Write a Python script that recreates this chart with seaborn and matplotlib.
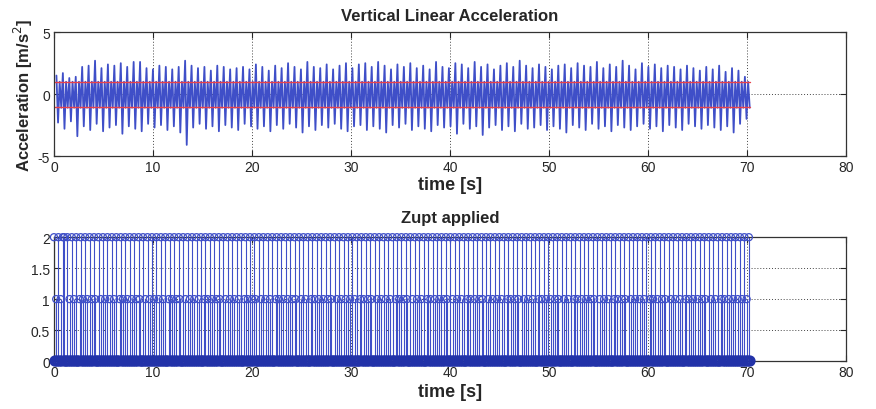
import numpy as np
import seaborn as sns
import matplotlib.pyplot as plt

sns.set_style("ticks")
plt.rcParams["font.family"] = ["Liberation Sans", "DejaVu Sans"]
plt.rcParams["axes.unicode_minus"] = False

# vertical acceleration: one big positive peak and one big negative trough per step
peaks = [
    1.5, 1.7, 1.3, 1.4, 2.2, 2.3, 2.7, 2.1, 2.4, 2.3, 2.5, 2.2, 2.6, 2.6, 2.1, 2.0,
    2.3, 2.2, 2.0, 2.2, 2.7, 2.3, 2.1, 2.2, 1.9, 2.3, 2.2, 2.0, 2.1, 2.2, 2.0, 2.4,
    2.2, 1.9, 2.3, 2.1, 2.5, 2.2, 2.0, 2.6, 2.2, 2.1, 2.4, 2.0, 2.3, 2.5, 2.1, 2.4,
    2.5, 2.2, 2.6, 2.3, 2.0, 2.4, 2.2, 2.5, 2.1, 2.3, 2.0, 2.6, 2.2, 2.1, 2.5, 2.4,
    2.1, 2.6, 2.2, 2.4, 2.0, 2.3, 2.5, 2.2, 2.7, 2.3, 2.1, 2.4, 2.2, 2.0, 2.3, 2.4,
    2.1, 2.5, 2.3, 2.2, 2.6, 2.1, 2.4, 2.2, 2.7, 2.3, 2.0, 2.5, 2.2, 2.4, 2.1, 2.3,
    2.2, 2.0, 2.3, 2.1, 1.9, 2.2, 2.0, 2.3, 1.8, 2.1, 1.9, 1.4,
]
troughs = [
    -2.3, -2.8, -2.2, -3.4, -2.6, -2.9, -2.4, -3.0, -2.7, -2.5, -3.2, -2.6, -2.8, -3.0, -2.4, -2.7,
    -2.5, -2.9, -2.6, -3.1, -4.1, -2.7, -2.4, -2.8, -2.6, -3.0, -2.5, -2.7, -2.9, -2.4, -2.6, -2.8,
    -2.6, -3.0, -2.5, -2.8, -2.4, -2.7, -3.1, -2.6, -2.9, -2.5, -2.7, -2.4, -2.8, -3.0, -2.6, -2.5,
    -2.9, -2.6, -2.8, -3.1, -2.5, -2.7, -2.4, -2.9, -2.6, -2.8, -3.0, -2.5, -2.7, -2.6, -3.2, -2.4,
    -2.8, -2.6, -3.3, -2.7, -2.5, -2.9, -2.6, -3.0, -2.4, -2.8, -2.7, -2.5, -2.9, -2.6, -2.8, -3.1,
    -2.5, -2.7, -2.9, -2.4, -2.8, -2.6, -3.0, -2.5, -2.7, -2.9, -2.6, -2.4, -2.8, -2.6, -3.0, -2.5,
    -2.7, -2.9, -2.4, -2.6, -2.8, -2.5, -2.7, -2.9, -2.6, -3.1, -2.4, -2.0,
]
# smaller swing between two steps
rebound = [1.0, -1.1]
step_period = 0.65
t_first = 0.25
thresholds = [1.0, -1.0]

# zupt detector output, one digit per sample
zupt_segments = [
    "2010 2010 2200 2010 2010 2001 2010 2010 2010 2100 2010 2010 2010 2010 2001 2010 2010 2010 2010 2100 2010 2010",
    "2010 2010 2010 2001 2010 2010 2100 2010 2010 2010 2010 2001 2010 2010 2010 2100 2010 2010 2010 2010 2001 2010",
    "2010 2100 2010 2010 2010 2001 2010 2010 2010 2010 2100 2010 2010 2001 2010 2010 2010 2010 2100 2010 2010 2010",
    "2010 2010 2001 2010 2010 2100 2010 2010 2010 2010 2001 2010 2010 2100 2010 2010 2010 2001 2010 2010 2010 2010",
    "2100 2010 2010 2010 2001 2010 2010 2010 2100 2010 2010 2010 2010 2001 2010 2010 2100 2010 2010 2010 2001 2010",
    "2010 2010 2010 2100 2010 2010 2001 2010 2010 2010 2010 2100 2010 2010 2010 2001 2010 2010 2100 2010 2010 2010",
    "2010 2001 2010 2010 2010 2100 2010 2010 2010 2001 2010 2010 2010 2010 2100 2010 2010 2001 2010 2010 2010 2010",
    "2010 2010 20",
]
zupt_dt = 0.1125

blue = "#3f4fc8"
dark_blue = "#2232a8"

accel = []
for p, tr in zip(peaks, troughs):
    accel += [p, tr] + rebound
accel_t = t_first + np.arange(len(accel)) * step_period / 4

zupt = np.array([int(c) for c in "".join("".join(zupt_segments).split())])
zupt_t = np.arange(len(zupt)) * zupt_dt
on = zupt > 0

fig = plt.figure(figsize=(8.76, 4.10), dpi=100)
ax1 = fig.add_axes([0.0616, 0.617, 0.904, 0.302])
ax2 = fig.add_axes([0.0616, 0.117, 0.904, 0.302])

sns.lineplot(x=accel_t, y=accel, ax=ax1, color=blue, lw=1.3, sort=False, estimator=None)
for th in thresholds:
    sns.lineplot(x=[0, accel_t[-1]], y=[th, th], ax=ax1, color="#e8404a", lw=1.0)
ax1.set_xlim(0, 80)
ax1.set_ylim(-5, 5)
ax1.set_yticks([-5, 0, 5])
ax1.set_title("Vertical Linear Acceleration", fontsize=12, fontweight="semibold", pad=9)
ax1.set_xlabel("time [s]", fontsize=13, fontweight="bold", labelpad=1)
ax1.set_ylabel("Acceleration [m/s$^2$]", fontsize=12, fontweight="bold", labelpad=2)

markerline, stemlines, baseline = ax2.stem(zupt_t, zupt, linefmt="-", markerfmt=" ", basefmt=" ")
plt.setp(stemlines, color=blue, lw=0.8)
sns.scatterplot(x=zupt_t[on], y=zupt[on], ax=ax2, marker="o", s=26, facecolor="none",
                edgecolor=blue, linewidth=0.9, clip_on=False, zorder=3)
sns.scatterplot(x=zupt_t[~on], y=zupt[~on], ax=ax2, marker="o", s=40, facecolor="none",
                edgecolor=dark_blue, linewidth=1.8, clip_on=False, zorder=3)
ax2.set_xlim(0, 80)
ax2.set_ylim(0, 2)
ax2.set_yticks([0, 0.5, 1, 1.5, 2])
ax2.set_yticklabels(["0", "0.5", "1", "1.5", "2"])
ax2.set_title("Zupt applied", fontsize=12, fontweight="semibold", pad=11)
ax2.set_xlabel("time [s]", fontsize=13, fontweight="bold", labelpad=3)

for ax in (ax1, ax2):
    ax.set_xticks(range(0, 81, 10))
    ax.grid(True, color="#444444", linestyle=(0, (1, 2)), lw=0.7)
    ax.tick_params(direction="in", length=4, labelsize=10, pad=3, top=True, right=True)
    for s in ax.spines.values():
        s.set_color("#333333")
        s.set_linewidth(0.9)
    ax.set_axisbelow(True)

fig.savefig("out.png", dpi=100)
